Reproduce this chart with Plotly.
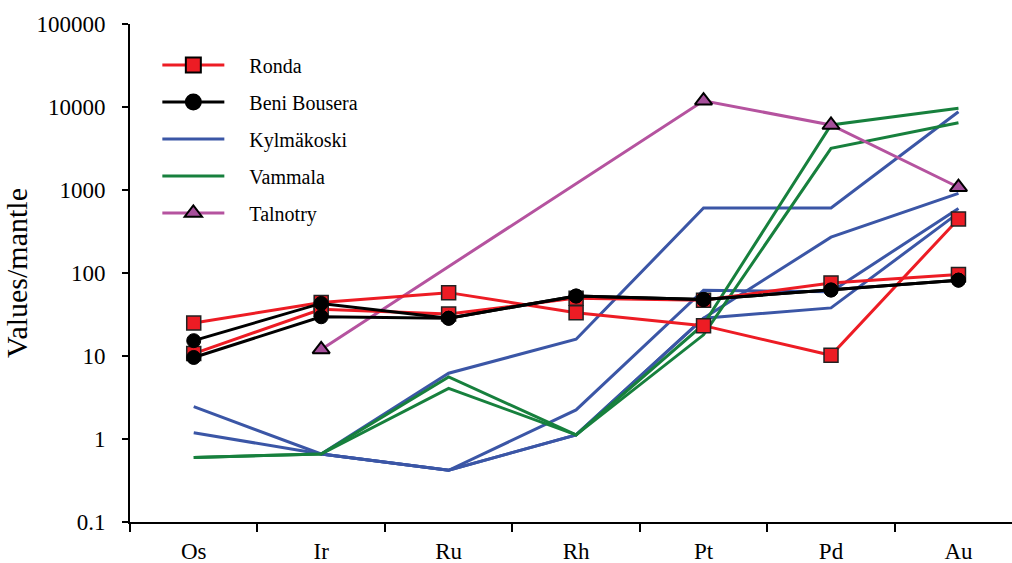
import plotly.graph_objects as go

elements = ["Os", "Ir", "Ru", "Rh", "Pt", "Pd", "Au"]

# Ronda (red, squares)
ronda_a = [25, 44, 58, 33.3, 23.2, 10.2, 448]
ronda_b = [10.7, 36.6, 32, 49.8, 47, 76, 96]
# Beni Bousera (black, circles)
beni_a = [15.3, 43, 28.5, 52.8, 48, 62.4, 82]
beni_b = [9.6, 29.7, 28.5, 52.8, 48, 62.4, 82]
# Kylmäkoski (blue)
kyl_1 = [2.45, 0.66, 6.2, 15.9, 607, 607, 8770]
kyl_2 = [1.19, 0.66, 0.42, 2.24, 62, 59.5, 600]
kyl_3 = [None, 0.66, 0.42, 1.12, 28.5, 38, 530]
kyl_4 = [None, 0.66, 0.42, 1.12, 28.5, 270, 912]
# Vammala (green)
vam_1 = [0.60, 0.66, 5.6, 1.12, 24, 6070, 9640]
vam_2 = [0.60, 0.66, 4.08, 1.12, 18, 3180, 6460]
# Talnotry (pink, triangles)
taln = [None, 12, None, None, 11900, 6070, 1080]

ytickvals = [0.1, 1, 10, 100, 1000, 10000, 100000]
yticktext = ["0.1", "1", "10", "100", "1000", "10000", "100000"]

RED = "#ed1c24"
BLUE = "#3b56a6"
GREEN = "#17803d"
PINK = "#b5539f"
PINK_FILL = "#a64f9b"

FONT = "Liberation Serif"

fig = go.Figure()

def add_line(y, name, color):
    fig.add_trace(go.Scatter(
        x=elements, y=y, mode="lines", name=name, showlegend=False,
        line=dict(color=color, width=3), connectgaps=False))

add_line(kyl_1, "Kylmäkoski", BLUE)
add_line(kyl_2, "Kylmäkoski", BLUE)
add_line(kyl_3, "Kylmäkoski", BLUE)
add_line(kyl_4, "Kylmäkoski", BLUE)
add_line(vam_1, "Vammala", GREEN)
add_line(vam_2, "Vammala", GREEN)

fig.add_trace(go.Scatter(
    x=elements, y=taln, mode="lines+markers", name="Talnotry",
    showlegend=False, connectgaps=True,
    line=dict(color=PINK, width=3),
    marker=dict(symbol="triangle-up", size=15, color=PINK_FILL,
                line=dict(color="black", width=2))))

for yv in (ronda_a, ronda_b):
    fig.add_trace(go.Scatter(
        x=elements, y=yv, mode="lines+markers", name="Ronda",
        showlegend=False, line=dict(color=RED, width=3),
        marker=dict(symbol="square", size=14, color=RED,
                    line=dict(color="#222222", width=1.5))))

for yv in (beni_a, beni_b):
    fig.add_trace(go.Scatter(
        x=elements, y=yv, mode="lines+markers", name="Beni Bousera",
        showlegend=False, line=dict(color="black", width=3),
        marker=dict(symbol="circle", size=14, color="black",
                    line=dict(color="black", width=1))))

# legend entries (in order)
legend_defs = [
    ("Ronda", RED, "square", RED, "lines+markers"),
    ("Beni Bousera", "black", "circle", "black", "lines+markers"),
    ("Kylmäkoski", BLUE, None, None, "lines"),
    ("Vammala", GREEN, None, None, "lines"),
    ("Talnotry", PINK, "triangle-up", PINK_FILL, "lines+markers"),
]
PAD = "&nbsp;&nbsp;&nbsp;&nbsp;"
for i, (nm, lc, sym, fc, md) in enumerate(legend_defs):
    mk = dict(symbol=sym, size=15, color=fc, line=dict(color="black", width=2)) if sym else None
    fig.add_trace(go.Scatter(
        x=[None], y=[None], mode=md, name=PAD + nm, legendgroup="L%d" % i,
        showlegend=True, line=dict(color=lc, width=3), marker=mk))

fig.update_layout(
    width=1012, height=563,
    margin=dict(l=130, r=0, t=24, b=41, autoexpand=False),
    paper_bgcolor="white", plot_bgcolor="white",
    font=dict(family=FONT, size=22, color="black"),
    showlegend=True,
    legend=dict(
        x=0.031, y=0.957, xanchor="left", yanchor="top",
        bgcolor="rgba(0,0,0,0)", borderwidth=0,
        font=dict(family=FONT, size=20, color="black"),
        tracegroupgap=8, itemwidth=62, traceorder="grouped",
    ),
    xaxis=dict(
        type="category", categoryorder="array", categoryarray=elements,
        range=[-0.5, 6.42], showgrid=False, zeroline=False, automargin=False,
        showline=True, linecolor="black", linewidth=2,
        ticks="outside", tickson="boundaries", ticklen=8, tickwidth=1.5,
        tickcolor="black", tickfont=dict(family=FONT, size=23),
        ticklabelstandoff=7,
    ),
    yaxis=dict(
        type="log", range=[-1, 5], showgrid=False, zeroline=False, automargin=False,
        showline=True, linecolor="black", linewidth=2,
        ticks="outside", ticklen=6, tickwidth=1.5, tickcolor="black",
        tickvals=ytickvals, ticktext=yticktext,
        tickfont=dict(family=FONT, size=23), ticklabelstandoff=12,
        title=dict(text="Values/mantle", font=dict(family=FONT, size=30), standoff=10),
    ),
)

fig.write_html("out.html", config={"displayModeBar": False},
               post_script="document.body.style.margin='0';")
